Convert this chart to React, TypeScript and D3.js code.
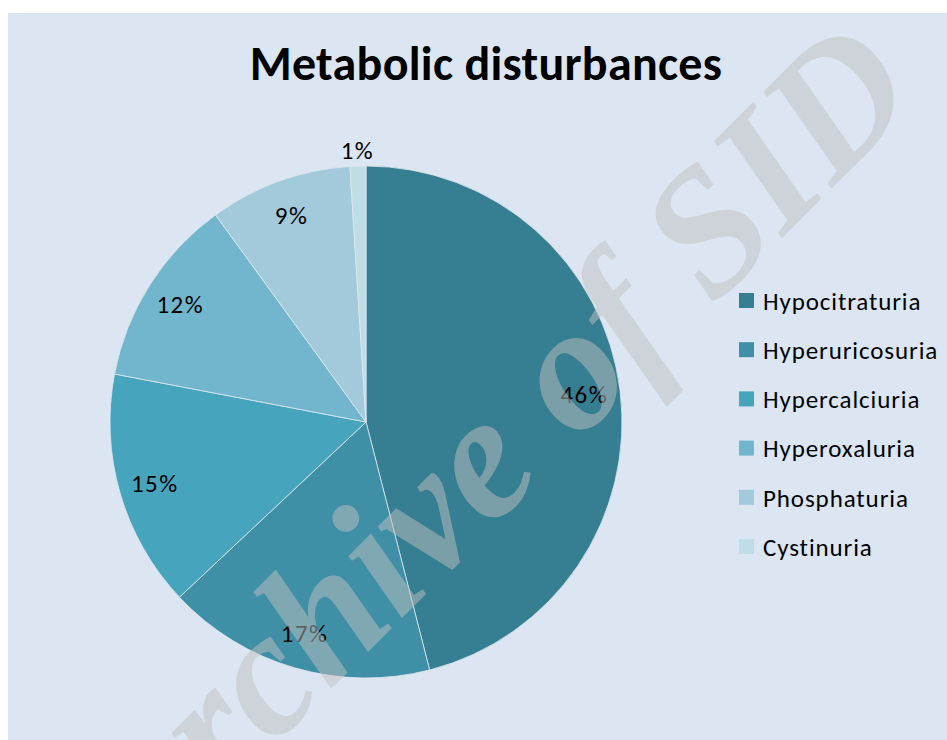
import { useRef, useEffect } from "react";
import { select, pie, arc, scaleOrdinal } from "d3";

// Data
const categories = [
  "Hypocitraturia",
  "Hyperuricosuria",
  "Hypercalciuria",
  "Hyperoxaluria",
  "Phosphaturia",
  "Cystinuria",
];
const shares = [46, 17, 15, 12, 9, 1];
const palette = ["#367e91", "#3f90a7", "#47a4bd", "#71b6cc", "#a2cadb", "#c0dce4"];

const W = 947;
const H = 740;

export default function App() {
  const svgRef = useRef<SVGSVGElement | null>(null);

  useEffect(() => {
    const svg = select(svgRef.current);
    svg.selectAll("*").remove();

    const font = "Carlito, Lato, sans-serif";

    // background panel
    svg
      .append("rect")
      .attr("x", 8)
      .attr("y", 13)
      .attr("width", W - 8)
      .attr("height", H - 13)
      .attr("fill", "#dce6f2");

    // title
    svg
      .append("text")
      .attr("x", 486)
      .attr("y", 80)
      .attr("text-anchor", "middle")
      .attr("font-family", font)
      .attr("font-weight", "bold")
      .attr("font-size", 48)
      .attr("letter-spacing", 0.3)
      .attr("fill", "#000")
      .text("Metabolic disturbances");

    const color = scaleOrdinal<string, string>().domain(categories).range(palette);

    const slices = pie<number>().sort(null).startAngle(0).endAngle(2 * Math.PI)(shares);
    const radius = 256;
    const slice = arc<any>().innerRadius(0).outerRadius(radius);
    const inLabel = arc<any>().innerRadius(220).outerRadius(220);
    const outLabel = arc<any>().innerRadius(272).outerRadius(272);

    const g = svg.append("g").attr("transform", "translate(366, 422)");

    g.selectAll("path")
      .data(slices)
      .join("path")
      .attr("d", slice)
      .attr("fill", (_d, i) => color(categories[i]))
      .attr("stroke", "#dfe9f0")
      .attr("stroke-width", 0.8);

    g.selectAll("text")
      .data(slices)
      .join("text")
      .attr("transform", (d) =>
        `translate(${(d.data < 3 ? outLabel : inLabel).centroid(d)})`
      )
      .attr("text-anchor", "middle")
      .attr("dy", "0.35em")
      .attr("font-family", font)
      .attr("font-size", 25)
      .attr("letter-spacing", 1.5)
      .attr("fill", "#000")
      .text((d) => `${d.data}%`);

    // legend
    const legend = svg
      .append("g")
      .selectAll("g")
      .data(categories)
      .join("g")
      .attr("transform", (_d, i) => `translate(739, ${301 + i * 49.2})`);

    legend
      .append("rect")
      .attr("x", 0)
      .attr("y", -8)
      .attr("width", 15)
      .attr("height", 15)
      .attr("fill", (d) => color(d));

    legend
      .append("text")
      .attr("x", 24)
      .attr("dy", "0.35em")
      .attr("font-family", font)
      .attr("font-size", 25)
      .attr("letter-spacing", 0.9)
      .attr("fill", "#000")
      .text((d) => d);

    // watermark
    svg
      .append("text")
      .attr("transform", "translate(140, 880) rotate(-45)")
      .attr("font-family", "'Liberation Serif', serif")
      .attr("font-style", "italic")
      .attr("font-weight", "bold")
      .attr("font-size", 178)
      .attr("fill", "#c0c0c0")
      .attr("fill-opacity", 0.5)
      .text("Archive of SID");
  }, []);

  return (
    <svg
      ref={svgRef}
      width={W}
      height={H}
      style={{ position: "absolute", left: 0, top: 0 }}
    />
  );
}
